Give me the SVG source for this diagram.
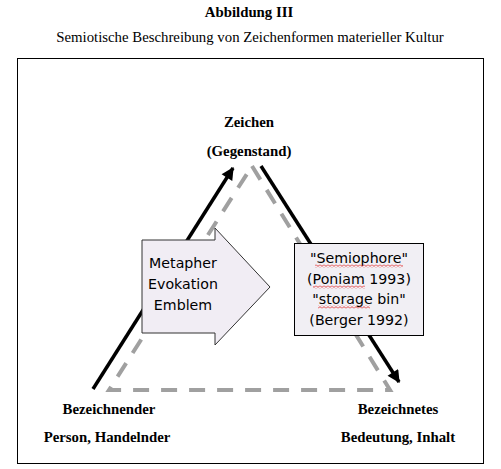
<svg xmlns="http://www.w3.org/2000/svg" width="501" height="469" viewBox="0 0 501 469">
<style>
.serif{font-family:"Liberation Serif","Times New Roman",serif;fill:#000}
.b{font-weight:bold;font-size:14.8px}
.sans{font-family:"DejaVu Sans",Verdana,sans-serif;font-size:14.2px;fill:#000}
.line{stroke:#000;stroke-width:3.5;fill:none}
.dash{stroke:#a0a0a0;stroke-width:4;fill:none;stroke-dasharray:16 12}
.shape{fill:#f1edf4;stroke:#333;stroke-width:1}
</style>
<defs>
<marker id="ah" viewBox="0 0 10 10" refX="9" refY="5" markerWidth="4.2" markerHeight="3.6" orient="auto" markerUnits="strokeWidth">
<path d="M0,0 L10,5 L0,10 z" fill="#000"/>
</marker>
<pattern id="sq" width="4" height="3" patternUnits="userSpaceOnUse">
<path d="M0,0.6 L2,2.4 L4,0.6" fill="none" stroke="#e02020" stroke-width="0.8"/>
</pattern>
</defs>
<rect x="0" y="0" width="501" height="469" fill="#fff"/>
<g id="title">
<text class="serif b" x="249" y="17" text-anchor="middle">Abbildung III</text>
<text class="serif" x="250" y="42" font-size="14.8" text-anchor="middle">Semiotische Beschreibung von Zeichenformen materieller Kultur</text>
</g>
<rect id="frame" x="17.5" y="58.5" width="466" height="405" fill="none" stroke="#000" stroke-width="1"/>
<g id="connectors">
<line class="line" x1="93" y1="389" x2="233" y2="168" marker-end="url(#ah)"/>
<line class="line" x1="261" y1="166" x2="399" y2="382" marker-end="url(#ah)"/>
<polygon class="dash" points="252,166 390,390 109,390"/>
</g>
<g id="node-zeichen">
<text class="serif b" x="249" y="127" text-anchor="middle">Zeichen</text>
<text class="serif b" x="249" y="156" text-anchor="middle">(Gegenstand)</text>
</g>
<g id="node-bezeichnender">
<text class="serif b" x="109" y="414" text-anchor="middle">Bezeichnender</text>
<text class="serif b" x="107" y="442" text-anchor="middle">Person, Handelnder</text>
</g>
<g id="node-bezeichnetes">
<text class="serif b" x="398" y="414" text-anchor="middle">Bezeichnetes</text>
<text class="serif b" x="398" y="442" text-anchor="middle">Bedeutung, Inhalt</text>
</g>
<g id="node-metapher">
<polygon class="shape" points="142,240 215,240 215,228 270,287 215,345 215,333 142,333"/>
<text class="sans" x="183" y="268" text-anchor="middle">Metapher</text>
<text class="sans" x="183" y="289" text-anchor="middle">Evokation</text>
<text class="sans" x="183" y="310" text-anchor="middle">Emblem</text>
</g>
<g id="node-semiophore">
<rect x="294.5" y="243.5" width="129" height="92" fill="#f1eff4" stroke="#000" stroke-width="1"/>
<text class="sans" x="359" y="263" text-anchor="middle">"Semiophore"</text>
<text class="sans" x="359" y="284" text-anchor="middle">(Poniam 1993)</text>
<text class="sans" x="359" y="304" text-anchor="middle">"storage bin"</text>
<text class="sans" x="359" y="325" text-anchor="middle">(Berger 1992)</text>
<rect x="315" y="264.5" width="88" height="3" fill="url(#sq)"/>
<rect x="313" y="285.5" width="52" height="3" fill="url(#sq)"/>
<rect x="318" y="305.5" width="52" height="3" fill="url(#sq)"/>
</g>
</svg>
